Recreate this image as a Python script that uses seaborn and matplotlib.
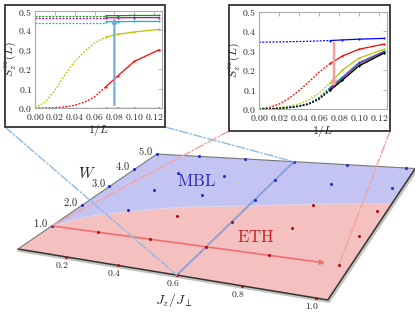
import numpy as np
import seaborn as sns
import matplotlib.pyplot as plt
import matplotlib.transforms as mtransforms
from matplotlib.patches import Rectangle, Polygon, ConnectionPatch
from matplotlib.ticker import FormatStrFormatter

# ---------------- data ----------------
# finite-size points (1/L for L = 14, 12, 10, 8) and the extrapolation curves
inv_L = [1 / 14, 1 / 12, 1 / 10, 1 / 8]
inv_L_ext = [0.0, 0.01, 0.02, 0.03, 0.04, 0.05, 0.06, 1 / 14]

# left inset: cut along W at Jz/Jperp = 0.6
left_blue = [0.0, 0.0, 0.0, 0.0]
left_blue_ext = [0.0, 0.0, 0.0, 0.0, 0.0, 0.0, 0.0, 0.0]
left_red = [0.11, 0.165, 0.24, 0.30]
left_red_ext = [0.0, 0.0, 0.002, 0.006, 0.014, 0.03, 0.057, 0.11]
left_yellow = [0.365, 0.38, 0.392, 0.405]
left_yellow_ext = [0.0, 0.03, 0.09, 0.17, 0.24, 0.29, 0.335, 0.365]
left_cyan = [0.445, 0.445, 0.446, 0.446]
left_cyan_ext = [0.437] * 8
left_magenta = [0.465, 0.465, 0.466, 0.466]
left_magenta_ext = [0.462] * 8
left_green = [0.476, 0.476, 0.477, 0.477]
left_green_ext = [0.475] * 8

# right inset: cut along Jz at W = 1
right_blue = [0.353, 0.356, 0.36, 0.364]
right_blue_ext = [0.344, 0.345, 0.346, 0.347, 0.348, 0.349, 0.351, 0.353]
right_red = [0.235, 0.273, 0.308, 0.335]
right_red_ext = [0.0, 0.008, 0.025, 0.055, 0.095, 0.14, 0.19, 0.235]
right_yellow = [0.135, 0.2, 0.262, 0.308]
right_yellow_ext = [0.0, 0.002, 0.008, 0.015, 0.026, 0.046, 0.082, 0.135]
right_cyan = [0.113, 0.165, 0.24, 0.298]
right_cyan_ext = [0.0, 0.001, 0.004, 0.009, 0.017, 0.03, 0.06, 0.113]
right_magenta = [0.108, 0.158, 0.235, 0.295]
right_magenta_ext = [0.0, 0.001, 0.004, 0.008, 0.016, 0.028, 0.056, 0.108]
right_green = [0.1, 0.15, 0.225, 0.29]
right_green_ext = [0.0, 0.001, 0.003, 0.007, 0.014, 0.026, 0.052, 0.1]
right_black = [0.098, 0.148, 0.222, 0.288]
right_black_ext = [0.0, 0.001, 0.003, 0.007, 0.014, 0.025, 0.05, 0.098]

x_ticks = [0.00, 0.02, 0.04, 0.06, 0.08, 0.10, 0.12]
y_ticks = [0.0, 0.1, 0.2, 0.3, 0.4, 0.5]

# phase diagram
mbl_jz = [0, 0, 0, 0, 0, 0.2, 0.2, 0.2, 0.2, 0.4, 0.4, 0.4, 0.6, 0.6, 0.6, 0.8, 0.8, 1.0, 1.0]
mbl_w = [1, 2, 3, 4, 5, 2, 3, 4, 5, 3, 4, 5, 3, 4, 5, 4, 5, 4, 5]
eth_jz = [0.2, 0.2, 0.4, 0.4, 0.4, 0.6, 0.6, 0.6, 0.8, 0.8, 0.8, 0.8, 1.0, 1.0, 1.0, 1.0]
eth_w = [0, 1, 0, 1, 2, 0, 1, 2, 0, 1, 2, 3, 0, 1, 2, 3]
bound_jz = [0.0, 0.05, 0.1, 0.2, 0.3, 0.4, 0.5, 0.6, 0.7, 0.8, 0.9, 1.0, 1.03]
bound_w = [0.9, 1.35, 1.62, 1.92, 2.18, 2.4, 2.56, 2.7, 2.87, 3.03, 3.17, 3.3, 3.33]
jz_labels = [0.2, 0.4, 0.6, 0.8, 1.0]
w_labels = [1.0, 2.0, 3.0, 4.0, 5.0]
jz_max, w_max = 1.03, 5.0

# ---------------- style ----------------
sns.set_style("white")
plt.rcParams["font.family"] = ["DejaVu Serif"]
plt.rcParams["mathtext.fontset"] = "cm"

fig = plt.figure(figsize=(4.15, 3.12), dpi=100)
ax = fig.add_axes([0, 0, 1, 1])
ax.set_autoscale_on(False)
ax.set_xlim(0, 415)
ax.set_ylim(312, 0)
ax.axis("off")


# perspective view of the (Jz, W) plane
class PlaneTransform(mtransforms.Transform):
    input_dims = output_dims = 2
    is_separable = False

    def __init__(self, H):
        super().__init__()
        self.H = H

    def transform_non_affine(self, values):
        v = np.asarray(values, float).reshape(-1, 2)
        p = np.column_stack([v, np.ones(len(v))]) @ self.H.T
        return p[:, :2] / p[:, 2:]


def homography(src, dst):
    A, b = [], []
    for (x, y), (X, Y) in zip(src, dst):
        A.append([x, y, 1, 0, 0, 0, -X * x, -X * y]); b.append(X)
        A.append([0, 0, 0, x, y, 1, -Y * x, -Y * y]); b.append(Y)
    h = np.linalg.solve(np.array(A, float), np.array(b, float))
    return np.append(h, 1).reshape(3, 3)


H = homography([(0, 0), (1, 0), (1, 5), (0, 5)],
               [(18, 249), (316, 298), (406, 168), (157, 154)])
proj = PlaneTransform(H) + ax.transData
shadow = mtransforms.offset_copy(proj, fig=fig, x=1.0, y=-1.5, units="dots")

bj, bw = np.array(bound_jz), np.array(bound_w)
eth_poly = np.vstack([[0, 0], np.column_stack([bj, bw]), [jz_max, 0]])
mbl_poly = np.vstack([[0, w_max], np.column_stack([bj, bw]), [jz_max, w_max]])
ax.add_patch(Polygon(eth_poly, closed=True, transform=proj, fc="#f4c0c0", ec="none", zorder=1))
ax.add_patch(Polygon(mbl_poly, closed=True, transform=proj, fc="#c4c4f2", ec="none", zorder=1))
ax.plot(bj, bw, transform=proj, color="#dcd4e4", lw=0.8, zorder=2)

# plane edges with a soft shadow
ax.plot([0, jz_max, jz_max], [0, 0, w_max], transform=shadow, color="#888", lw=2.2, alpha=0.5, zorder=1.5)
ax.plot([0, jz_max, jz_max], [0, 0, w_max], transform=proj, color="#333", lw=1.1, zorder=2)
ax.plot([0, 0, jz_max], [0, w_max, w_max], transform=proj, color="#777", lw=0.8, zorder=2)

# cuts
ax.plot([0.6, 0.6], [0, w_max], transform=proj, color="#7b9ad8", lw=1.4, alpha=0.85, zorder=2)
ax.annotate("", xy=(0.97, 1), xytext=(0, 1), xycoords=proj, textcoords=proj,
            arrowprops=dict(arrowstyle="-|>", color="#f07070", lw=1.2, mutation_scale=7), zorder=2)

ax.scatter(mbl_jz, mbl_w, transform=proj, s=5, color="#1f2fd0", zorder=3, linewidths=0)
ax.scatter(eth_jz, eth_w, transform=proj, s=5, color="#b01010", zorder=3, linewidths=0)

for w in w_labels:
    ax.annotate(f"${w:.1f}$", xy=(0, w), xycoords=proj, xytext=(-4, 3),
                textcoords="offset pixels", ha="right", va="center", fontsize=7.5)
for j in jz_labels:
    ax.annotate(f"${j:.1f}$", xy=(j, 0), xycoords=proj, xytext=(-4, -8),
                textcoords="offset pixels", ha="center", va="center", fontsize=7)

ax.text(87, 173, "$W$", fontsize=11, ha="center", va="center")
ax.text(174, 300, r"$J_z/J_\perp$", fontsize=10, ha="center", va="center")
ax.text(196, 181, r"$\mathrm{MBL}$", fontsize=12, ha="center", va="center", color="#2828c0")
ax.text(256, 238, r"$\mathrm{ETH}$", fontsize=12, ha="center", va="center", color="#c02020")

# inset frames and connectors
ax.add_patch(Rectangle((5, 5), 160, 122, fc="white", ec="#333", lw=1.3, zorder=5))
ax.add_patch(Rectangle((229, 5), 161, 126, fc="white", ec="#333", lw=1.3, zorder=5))
for xa, ya, pt in [(5, 127, (0.6, 0)), (165, 127, (0.6, w_max))]:
    ax.add_artist(ConnectionPatch(xyA=(xa, ya), coordsA=ax.transData, xyB=pt, coordsB=proj,
                                  color="#8cbbe8", lw=1.0, linestyle="-.", zorder=4))
for xa, ya, pt in [(229, 131, (0, 1)), (390, 131, (1.0, 1))]:
    ax.add_artist(ConnectionPatch(xyA=(xa, ya), coordsA=ax.transData, xyB=pt, coordsB=proj,
                                  color="#f5a0a0", lw=1.0, linestyle="-.", zorder=4))

axL = fig.add_axes([35 / 415, 1 - 108 / 312, 127 / 415, 97 / 312])
axR = fig.add_axes([259 / 415, 1 - 109 / 312, 128 / 415, 97 / 312])


def draw_series(a, series):
    for color, solid, ext in series:
        sns.lineplot(x=inv_L_ext, y=ext, ax=a, color=color, lw=0.9, linestyle=(0, (1.5, 1.2)))
        sns.lineplot(x=inv_L, y=solid, ax=a, color=color, lw=0.9, marker=".", ms=3, mew=0)


draw_series(axL, [("#0000ff", left_blue, left_blue_ext), ("#ff0000", left_red, left_red_ext),
                  ("#bfbf00", left_yellow, left_yellow_ext), ("#00bfbf", left_cyan, left_cyan_ext),
                  ("#bf00bf", left_magenta, left_magenta_ext), ("#00a000", left_green, left_green_ext)])
draw_series(axR, [("#0000ff", right_blue, right_blue_ext), ("#ff0000", right_red, right_red_ext),
                  ("#bfbf00", right_yellow, right_yellow_ext), ("#00bfbf", right_cyan, right_cyan_ext),
                  ("#bf00bf", right_magenta, right_magenta_ext), ("#00a000", right_green, right_green_ext),
                  ("#000000", right_black, right_black_ext)])

axL.annotate("", xy=(0.08, 0.478), xytext=(0.08, 0.0),
             arrowprops=dict(arrowstyle="-|>", color="#6fa8dc", lw=1.5, mutation_scale=6))
axR.annotate("", xy=(0.075, 0.10), xytext=(0.075, 0.355),
             arrowprops=dict(arrowstyle="-|>", color="#f0a0a0", lw=1.8, mutation_scale=6))

for a in (axL, axR):
    a.set_xlim(0, 0.128)
    a.set_ylim(0, 0.5)
    a.set_xticks(x_ticks)
    a.set_yticks(y_ticks)
    a.xaxis.set_major_formatter(FormatStrFormatter("$%.2f$"))
    a.yaxis.set_major_formatter(FormatStrFormatter("$%.1f$"))
    a.tick_params(direction="in", top=True, right=True, length=3, width=0.5,
                  color="#999", labelsize=7)
    a.tick_params(axis="x", pad=3)
    a.tick_params(axis="y", pad=2)
    for s in a.spines.values():
        s.set_color("#aaa")
        s.set_linewidth(0.8)
    a.set_xlabel("$1/L$", fontsize=8.5, labelpad=0)
    a.set_ylabel(r"$S_z^{\infty}(L)$", fontsize=8.5, labelpad=0)

fig.savefig("out.png", dpi=100)
